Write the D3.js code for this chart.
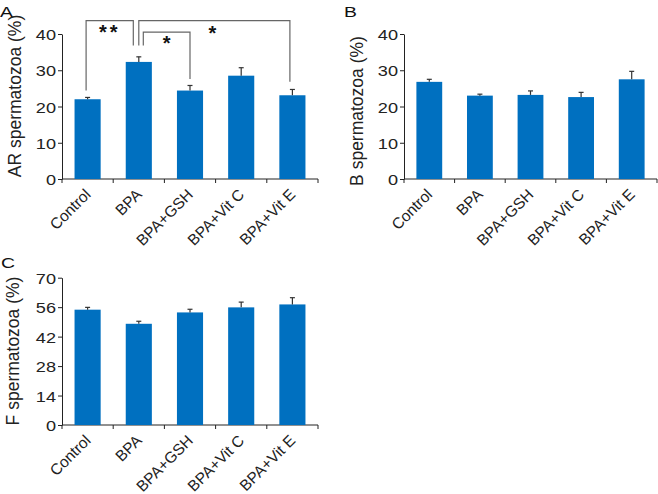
<!DOCTYPE html>
<html><head><meta charset="utf-8">
<script src="https://cdn.jsdelivr.net/npm/d3@7"></script>
<style>body{margin:0;background:#fff}svg{display:block}text{font-family:"Liberation Sans",Arial,sans-serif}</style>
</head><body>
<svg id="c" width="658" height="494"></svg>
<script>
const categories = ["Control","BPA","BPA+GSH","BPA+Vit C","BPA+Vit E"];
const arValues = [22.0, 32.3, 24.4, 28.5, 23.1];
const arErrors = [0.5, 1.4, 1.4, 2.2, 1.6];
const bValues  = [26.8, 23.0, 23.2, 22.6, 27.5];
const bErrors  = [0.7, 0.4, 1.1, 1.3, 2.2];
const fValues  = [54.8, 48.1, 53.5, 55.9, 57.3];
const fErrors  = [1.1, 1.2, 1.5, 2.5, 3.2];
const abTicks = [0,10,20,30,40];
const fTicks  = [0,14,28,42,56,70];
// significance brackets on panel A: from, to, top value, leg-bottom values, label
const brackets = [
  {from:"Control", to:"BPA",       top:43.7, legFrom:24.4, legTo:36.8, label:"**"},
  {from:"BPA",     to:"BPA+Vit E", top:43.7, legFrom:36.8, legTo:26.8, label:"*"},
  {from:"BPA",     to:"BPA+GSH",   top:40.5, legFrom:36.8, legTo:27.6, label:"*"}
];

const svg = d3.select("#c");
const blue = "#0070C0";
const ink = "#222";

function panel(opt){
  const g = svg.append("g");
  const x = d3.scaleBand().domain(categories).range(opt.xr).paddingInner(0.49).paddingOuter(0.245);
  const y = d3.scaleLinear().domain([0, opt.max]).range(opt.yr);
  // y axis
  const ya = g.append("g").attr("transform",`translate(${opt.xr[0]},0)`)
    .call(d3.axisLeft(y).tickValues(opt.ticks).tickSize(4).tickSizeOuter(0).tickFormat(""));
  ya.selectAll("line,path").attr("stroke",ink);
  ya.selectAll("g.tick").append("text")
    .attr("transform","translate(-6,5.5) scale(1.25,1)")
    .attr("text-anchor","end").attr("font-size",14.5).attr("fill",ink)
    .text(d=>d);
  // x axis with ticks at category boundaries
  const xa = g.append("g").attr("transform",`translate(0,${opt.yr[0]})`);
  xa.append("line").attr("x1",opt.xr[0]).attr("x2",opt.xr[1]).attr("y1",0).attr("y2",0).attr("stroke",ink);
  const step = x.step();
  const bounds = d3.range(categories.length+1).map(i => opt.xr[0] + i*step);
  xa.selectAll("line.t").data(bounds).join("line").attr("class","t")
    .attr("x1",d=>d).attr("x2",d=>d).attr("y1",0).attr("y2",4).attr("stroke",ink);
  xa.selectAll("text").data(categories).join("text")
    .attr("transform", d => `translate(${x(d)+x.bandwidth()/2+4},${16.5}) rotate(-45)`)
    .attr("text-anchor","end").attr("font-size",15.5).attr("fill",ink).text(d=>d);
  // bars
  g.selectAll("rect.bar").data(categories).join("rect").attr("class","bar")
    .attr("x",d=>x(d)).attr("width",x.bandwidth())
    .attr("y",(d,i)=>y(opt.values[i])).attr("height",(d,i)=>y(0)-y(opt.values[i]))
    .attr("fill",blue);
  // error bars (upper)
  const eb = g.selectAll("g.eb").data(categories).join("g").attr("class","eb");
  eb.append("line").attr("x1",d=>x(d)+x.bandwidth()/2).attr("x2",d=>x(d)+x.bandwidth()/2)
    .attr("y1",(d,i)=>y(opt.values[i])).attr("y2",(d,i)=>y(opt.values[i]+opt.errors[i]))
    .attr("stroke","#333").attr("stroke-width",1.2);
  eb.append("line").attr("x1",d=>x(d)+x.bandwidth()/2-2.5).attr("x2",d=>x(d)+x.bandwidth()/2+2.5)
    .attr("y1",(d,i)=>y(opt.values[i]+opt.errors[i])).attr("y2",(d,i)=>y(opt.values[i]+opt.errors[i]))
    .attr("stroke","#333").attr("stroke-width",1.2);
  // y label
  g.append("text").attr("transform",`translate(${opt.lx},${opt.ly}) rotate(-90)`)
    .attr("text-anchor","middle").attr("font-size",17.5).attr("fill",ink).text(opt.ylabel);
  // panel letter
  g.append("text").attr("transform",`translate(${opt.px},${opt.py}) scale(1.25,1)`)
    .attr("font-size",15.5).attr("fill","#111").text(opt.letter);
  return {x,y,g};
}

const A = panel({xr:[62,318], yr:[179,34], max:40, ticks:abTicks, values:arValues, errors:arErrors,
  ylabel:"AR spermatozoa (%)", lx:21, ly:96, letter:"A", px:0, py:17});
panel({xr:[404,657], yr:[179,34], max:40, ticks:abTicks, values:bValues, errors:bErrors,
  ylabel:"B spermatozoa (%)", lx:363, ly:111, letter:"B", px:344, py:17});
panel({xr:[62,318], yr:[425,277.7], max:70, ticks:fTicks, values:fValues, errors:fErrors,
  ylabel:"F spermatozoa (%)", lx:19, ly:351, letter:"C", px:1, py:268});

// brackets
const cx = d => A.x(d) + A.x.bandwidth()/2;
const legShift = [[-1.5,-5.5],[0,-2.5],[4.5,0]];
brackets.forEach((b,i) => {
  const x1 = cx(b.from)+legShift[i][0], x2 = cx(b.to)+legShift[i][1];
  A.g.append("path")
    .attr("d",`M${x1},${A.y(b.legFrom)}V${A.y(b.top)}H${x2}V${A.y(b.legTo)}`)
    .attr("fill","none").attr("stroke","#666").attr("stroke-width",1.2);
  A.g.append("text").attr("x",(x1+x2)/2 + (i===1?-2:0)).attr("y",A.y(b.top)+ (i===1?19:18))
    .attr("text-anchor","middle").attr("font-size",20).attr("font-weight","bold").attr("fill","#111")
    .attr("letter-spacing", b.label.length>1?3:0).text(b.label);
});
</script>
</body></html>
